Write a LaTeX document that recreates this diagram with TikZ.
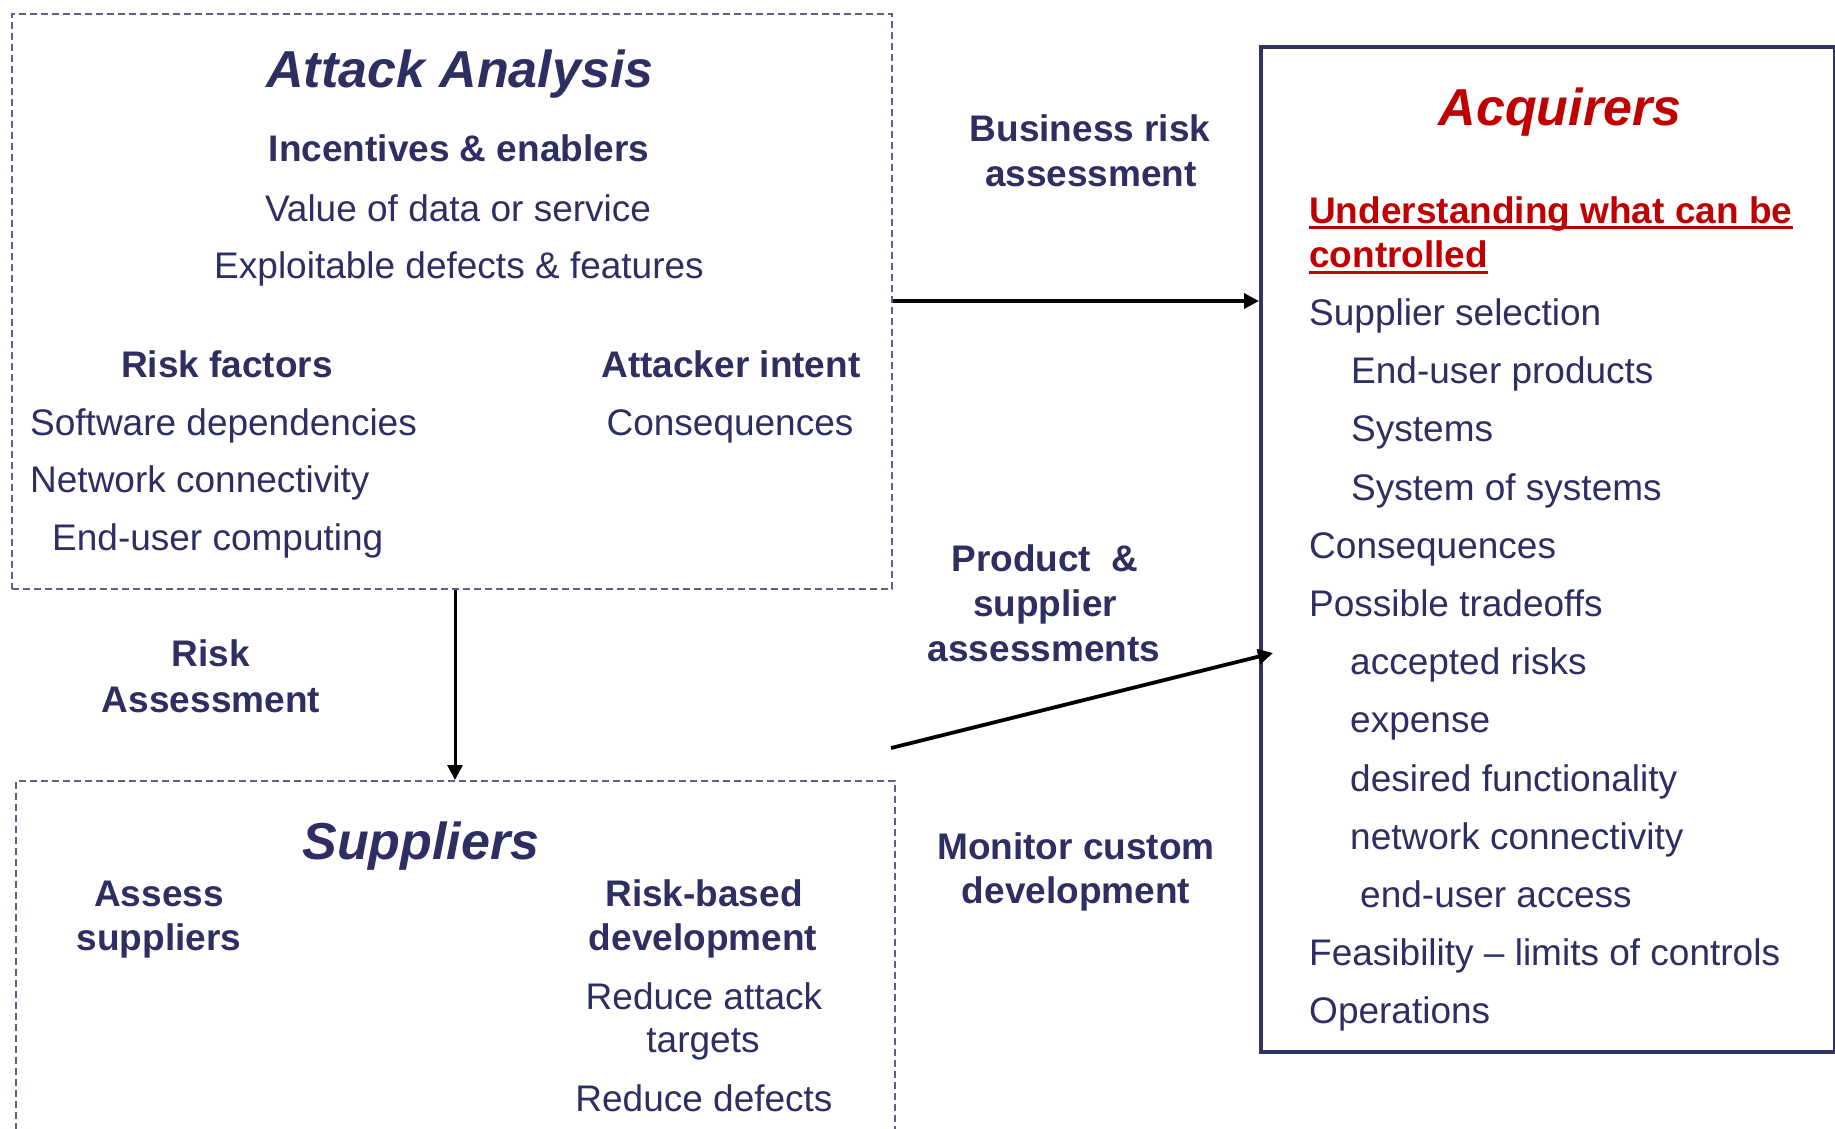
\documentclass[tikz,border=0pt]{standalone}
\usepackage{fontspec}
\setmainfont{Liberation Sans}
\usetikzlibrary{arrows.meta}
\definecolor{navy}{RGB}{45,46,98}
\definecolor{boxline}{RGB}{95,95,135}
\definecolor{acqline}{RGB}{50,50,100}
\definecolor{acqred}{RGB}{192,0,0}
\tikzset{
  txt/.style={inner sep=0pt, text=navy, font=\fontsize{37}{44.5}\selectfont},
  bld/.style={inner sep=0pt, text=navy, font=\fontsize{37}{44.5}\selectfont\bfseries},
  ttl/.style={inner sep=0pt, font=\fontsize{52}{60}\selectfont\bfseries\itshape},
  dbox/.style={draw=boxline, line width=1.6pt, dash pattern=on 7pt off 4pt, inner sep=0pt, anchor=north west},
  arr/.style={draw=black, -{Triangle[length=15pt,width=15pt]}},
}
\begin{document}
\begin{tikzpicture}[x=1pt,y=-1pt]
\useasboundingbox (0,0) rectangle (1835,1128);
\clip (0,0) rectangle (1835,1128);
\fill[white] (0,0) rectangle (1835,1128);

% boxes
\node[dbox, minimum width=880pt, minimum height=575pt] (attack) at (11,13) {};
\node[dbox, minimum width=879pt, minimum height=430pt] (supp) at (15,780) {};
\node[draw=acqline, line width=4pt, inner sep=0pt, anchor=north west, minimum width=574pt, minimum height=1005pt] (acq) at (1259,45) {};

% Attack Analysis
\node[ttl, text=navy, anchor=base] (t1) at (460,87) {Attack Analysis};
\node[bld, anchor=base] (a1) at (459,161) {Incentives \& enablers};
\node[txt, anchor=base] (a2) at (458,221) {Value of data or service};
\node[txt, anchor=base] (a3) at (459,278.5) {Exploitable defects \& features};
\node[bld, anchor=base] (a4) at (227,377) {Risk factors};
\node[bld, anchor=base] (a5) at (731,377) {Attacker intent};
\node[txt, anchor=base west] (a6) at (30,435) {Software dependencies};
\node[txt, anchor=base] (a7) at (730,435) {Consequences};
\node[txt, anchor=base west] (a8) at (30,492) {Network connectivity};
\node[txt, anchor=base west] (a9) at (52,550) {End-user computing};

% middle labels
\node[bld, anchor=base] (l1) at (1090,141.5) {Business risk};
\node[bld, anchor=base] (l2) at (1091,186.6) {assessment};
\node[bld, anchor=base] (l3) at (1045,571) {Product\ \ \&};
\node[bld, anchor=base] (l4) at (1045,616) {supplier};
\node[bld, anchor=base] (l5) at (1044,661) {assessments};
\node[bld, anchor=base] (l6) at (211,666.6) {Risk};
\node[bld, anchor=base] (l7) at (211,712) {Assessment};
\node[bld, anchor=base] (l8) at (1076,859) {Monitor custom};
\node[bld, anchor=base] (l9) at (1076,903) {development};

% Suppliers
\node[ttl, text=navy, anchor=base] (t2) at (421,859) {Suppliers};
\node[bld, anchor=base] (s1) at (159,906) {Assess};
\node[bld, anchor=base] (s2) at (159,950) {suppliers};
\node[bld, anchor=base] (s3) at (704,906) {Risk-based};
\node[bld, anchor=base] (s4) at (703,950) {development};
\node[txt, anchor=base] (s5) at (704,1009) {Reduce attack};
\node[txt, anchor=base] (s6) at (703,1052) {targets};
\node[txt, anchor=base] (s7) at (704,1111) {Reduce defects};

% Acquirers
\node[ttl, text=acqred, anchor=base] (t3) at (1560,125) {Acquirers};
\node[bld, text=acqred, anchor=base west] (u1) at (1309,223) {Understanding what can be};
\node[bld, text=acqred, anchor=base west] (u2) at (1309,267.7) {controlled};
\draw[acqred, line width=2.8pt] ([yshift=-4.5pt]u1.base west) -- ([yshift=-4.5pt]u1.base east);
\draw[acqred, line width=2.8pt] ([yshift=-4.5pt]u2.base west) -- ([yshift=-4.5pt]u2.base east);
\node[txt, anchor=base west] (q1) at (1309,325.5) {Supplier selection};
\node[txt, anchor=base west] (q2) at (1351,383.7) {End-user products};
\node[txt, anchor=base west] (q3) at (1351,441.9) {Systems};
\node[txt, anchor=base west] (q4) at (1351,500.1) {System of systems};
\node[txt, anchor=base west] (q5) at (1309,558.3) {Consequences};
\node[txt, anchor=base west] (q6) at (1309,616.5) {Possible tradeoffs};
\node[txt, anchor=base west] (q7) at (1350,674.7) {accepted risks};
\node[txt, anchor=base west] (q8) at (1350,732.9) {expense};
\node[txt, anchor=base west] (q9) at (1350,791.1) {desired functionality};
\node[txt, anchor=base west] (q10) at (1350,849.3) {network connectivity};
\node[txt, anchor=base west] (q11) at (1360,907.5) {end-user access};
\node[txt, anchor=base west] (q12) at (1309,965.7) {Feasibility -- limits of controls};
\node[txt, anchor=base west] (q13) at (1309,1023.9) {Operations};

% connectors
\coordinate (hy) at (0,301);
\coordinate (vx) at (455,0);
\coordinate (d0) at (891,748);
\coordinate (d1) at (1273,653);
\draw[arr, line width=3.5pt] (attack.east |- hy) -- (acq.west |- hy);
\draw[arr, line width=3pt] (attack.south -| vx) -- (supp.north -| vx);
\draw[arr, line width=3.8pt] (d0) -- (d1);
\end{tikzpicture}
\end{document}
